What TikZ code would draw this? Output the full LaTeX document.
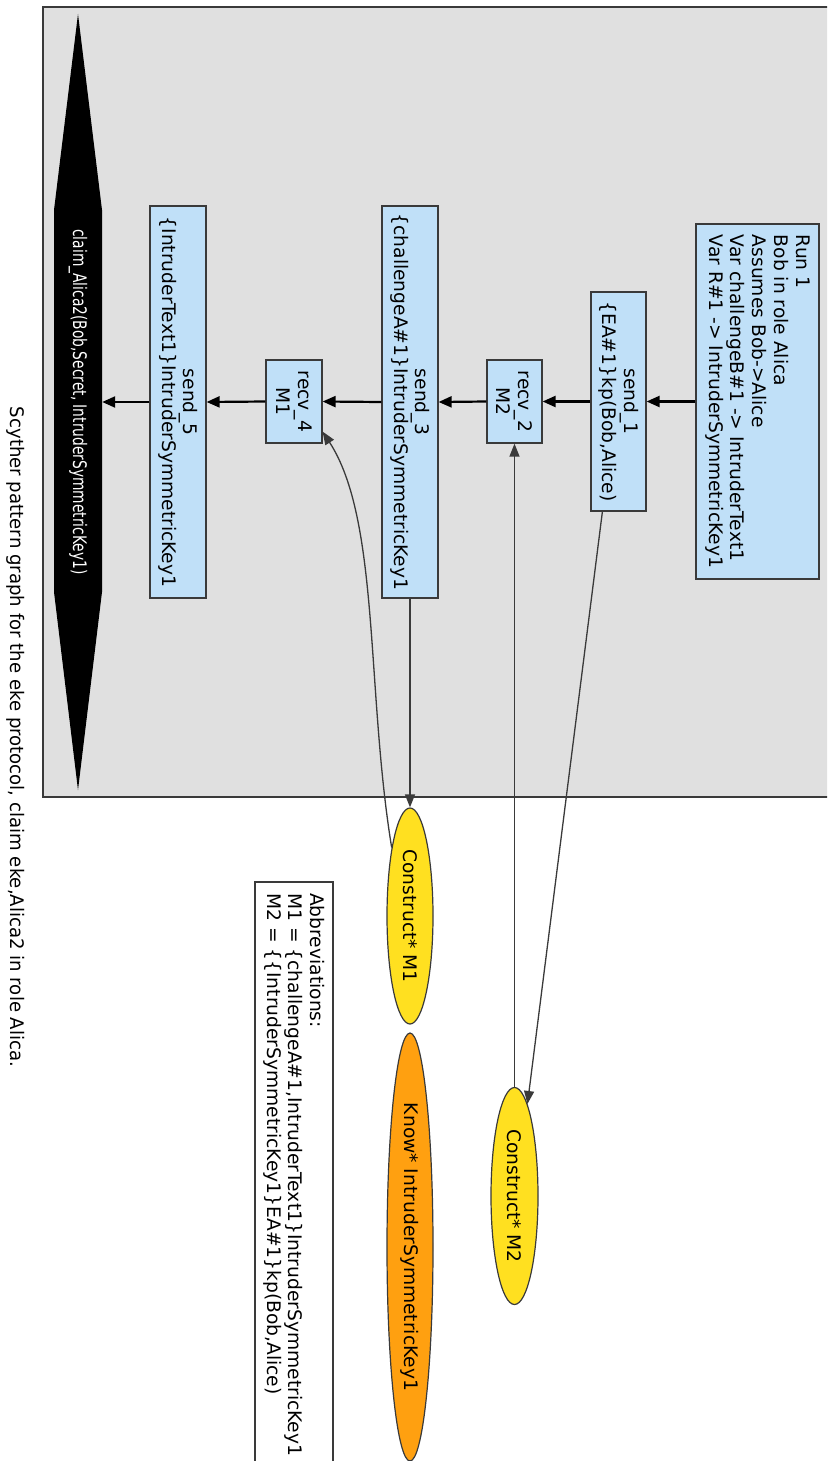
\documentclass[tikz,border=0pt]{standalone}
\usepackage{fontspec}
\setmainfont{DejaVu Sans}
\usetikzlibrary{shapes.geometric,arrows.meta,calc}
\definecolor{clusterbg}{HTML}{E0E0E0}
\definecolor{evblue}{HTML}{C0E0F8}
\definecolor{edgegray}{HTML}{3A3A3A}
\definecolor{constructyellow}{HTML}{FFE020}
\definecolor{knoworange}{HTML}{FFA010}
\begin{document}
\begin{tikzpicture}[x=1pt,y=-1pt,
  every node/.style={font=\fontsize{18.67}{21.7}\selectfont, rotate=-90, inner sep=0pt},
  evbox/.style={draw=edgegray, fill=evblue, line width=1.2pt, align=center},
  goal/.style={ellipse, draw=edgegray, line width=1.2pt},
  chain/.style={-{Triangle[length=13pt,width=11pt]}, line width=2.2pt},
  link/.style={-{Triangle[length=13pt,width=10pt]}, line width=1.3pt, draw=edgegray, fill=none},
]
\useasboundingbox (0,0) rectangle (827,1461);
\clip (0,0) rectangle (827,1461);

% cluster of the run
\draw[draw=edgegray, fill=clusterbg, line width=1.2pt] (43,7) rectangle (830,797);

% claim hexagon
\fill[black] (78,14) -- (102,210) -- (102,592) -- (78,790) -- (54,592) -- (54,210) -- cycle;
\node[minimum width=776pt, minimum height=48pt, text=white] (claim) at (78,402)
  {\scalebox{0.74}[1]{claim\_Alica2(Bob,Secret, IntruderSymmetricKey1)}};

% events of the run
\node[evbox, align=left, minimum width=355pt, minimum height=123pt] (run) at (757.5,401.5)
  {Run 1\\Bob in role Alica\\Assumes Bob->Alice\\Var challengeB\#1 -> IntruderText1\\Var R\#1 -> IntruderSymmetricKey1};
\node[evbox, minimum width=219pt, minimum height=55pt] (s1) at (618.5,401.5)
  {send\_1\\\{EA\#1\}kp(Bob,Alice)};
\node[evbox, minimum width=83pt, minimum height=55pt] (r2) at (514.5,401.5)
  {recv\_2\\M2};
\node[evbox, minimum width=392pt, minimum height=56pt] (s3) at (410,402)
  {send\_3\\\{challengeA\#1\}IntruderSymmetricKey1};
\node[evbox, minimum width=83pt, minimum height=56pt] (r4) at (294,401.5)
  {recv\_4\\M1};
\node[evbox, minimum width=392pt, minimum height=56pt] (s5) at (178,402)
  {send\_5\\\{IntruderText1\}IntruderSymmetricKey1};

% intruder goals
\node[goal, fill=constructyellow, minimum width=216pt, minimum height=46pt] (cm1) at (410,916)
  {Construct* M1};
\node[goal, fill=knoworange, minimum width=428pt, minimum height=46pt] (know) at (410,1247)
  {Know* IntruderSymmetricKey1};
\node[goal, fill=constructyellow, minimum width=217pt, minimum height=47pt] (cm2) at (514.5,1196)
  {Construct* M2};

% abbreviations
\draw[draw=edgegray, fill=white, line width=1.2pt] (255,882) rectangle (333,1475);
\node[anchor=west, align=left] (abbr) at (294,893)
  {Abbreviations:\\M1 = \{challengeA\#1,IntruderText1\}IntruderSymmetricKey1\\M2 = \{\{IntruderSymmetricKey1\}EA\#1\}kp(Bob,Alice)};

% title
\node (title) at (16,737)
  {\scalebox{0.97}[1]{Scyther pattern graph for the eke protocol, claim eke,Alica2 in role Alica.}};

% run order
\draw[chain] (run.south) -- (s1.north);
\draw[chain] (s1.south) -- (r2.north);
\draw[chain] (r2.south) -- (s3.north);
\draw[chain] (s3.south) -- (r4.north);
\draw[chain] (r4.south) -- (s5.north);
\draw[chain] (s5.south) -- (claim.north);

% message flow
\draw[link] (s3.east) -- (cm1.west);
\draw[link] (cm1.195) .. controls (366,690) and (380,520) .. ([yshift=12pt]r4.north east);
\draw[link] (cm2.west) -- (r2.east);
\draw[link] ([xshift=12pt]s1.south east) -- (cm2.172);
\end{tikzpicture}
\end{document}
